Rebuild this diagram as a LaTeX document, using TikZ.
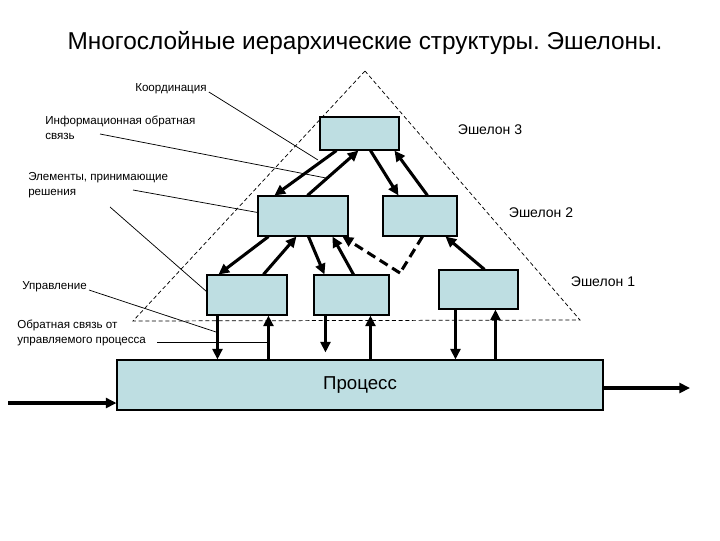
\documentclass[tikz,border=0pt]{standalone}
\usepackage{fontspec}
\setmainfont{Liberation Sans}
\usetikzlibrary{arrows.meta,calc}
\definecolor{boxblue}{RGB}{190,222,226}
\frenchspacing
\tikzset{
  blk/.style={draw=black,line width=0.8pt,fill=boxblue,rectangle,inner sep=0pt},
  arr/.style={line width=2.3pt,-{Triangle[length=8pt,width=7.5pt]}},
  darr/.style={arr,dash pattern=on 7pt off 4pt},
  dln/.style={line width=2.3pt,dash pattern=on 7pt off 4pt},
  lead/.style={line width=0.55pt},
  tri/.style={line width=0.55pt,dash pattern=on 3pt off 2pt},
  lbl/.style={font=\fontsize{8.7}{11}\selectfont,inner sep=0pt,align=left},
  ech/.style={font=\fontsize{10.5}{12}\selectfont,inner sep=0pt}
}
\begin{document}
\begin{tikzpicture}[x=0.75pt,y=-0.75pt]
\useasboundingbox (0,0) rectangle (720,540);
% title
\node[font=\fontsize{18.3}{20}\selectfont,inner sep=0pt] (title) at (365,43) {Многослойные иерархические структуры. Эшелоны.};
% triangle
\coordinate (apex) at (365,71);
\coordinate (tbl) at (133,321);
\coordinate (tbr) at (580,320);
\draw[tri] (apex) -- (tbl) -- (tbr) -- cycle;
% boxes
\node[blk,minimum width=59.25pt,minimum height=24.75pt] (e3) at (359.5,133.5) {};
\node[blk,minimum width=67.5pt,minimum height=30pt] (e2l) at (303,216) {};
\node[blk,minimum width=55.5pt,minimum height=30pt] (e2r) at (420,216) {};
\node[blk,minimum width=60pt,minimum height=30pt] (e1a) at (247,295) {};
\node[blk,minimum width=56.25pt,minimum height=30pt] (e1b) at (351.5,295) {};
\node[blk,minimum width=59.25pt,minimum height=29.25pt] (e1c) at (478.5,289.5) {};
\node[blk,minimum width=364.5pt,minimum height=37.5pt,font=\fontsize{14}{16}\selectfont] (proc) at (360,385) {Процесс};
% echelon 3 <-> 2
\draw[arr] ([shift={(17,0)}]e3.south west) -- ([shift={(17,0)}]e2l.north west);
\draw[arr] ([shift={(50,0)}]e2l.north west) -- ([shift={(39,0)}]e3.south west);
\draw[arr] ([shift={(51,0)}]e3.south west) -- ([shift={(16,0)}]e2r.north west);
\draw[arr] ([shift={(45,0)}]e2r.north west) -- ([shift={(75,0)}]e3.south west);
% echelon 2 <-> 1
\draw[arr] ([shift={(11,0)}]e2l.south west) -- ([shift={(12,0)}]e1a.north west);
\draw[arr] ([shift={(57,0)}]e1a.north west) -- ([shift={(39,0)}]e2l.south west);
\draw[arr] ([shift={(51,0)}]e2l.south west) -- ([shift={(11,0)}]e1b.north west);
\draw[arr] ([shift={(40,0)}]e1b.north west) -- ([shift={(75,0)}]e2l.south west);
\coordinate (dp) at (400,273);
\draw[darr] (dp) -- ([shift={(85,0)}]e2l.south west);
\draw[dln] ([shift={(40,0)}]e2r.south west) -- (dp);
\draw[arr] ([shift={(46,0)}]e1c.north west) -- ([shift={(63,0)}]e2r.south west);
% echelon 1 <-> process
\draw[arr] ([shift={(11,0)}]e1a.south west) -- ([shift={(101,0)}]proc.north west);
\draw[arr] ([shift={(152,0)}]proc.north west) -- ([shift={(62,0)}]e1a.south west);
\draw[arr] ([shift={(12,0)}]e1b.south west) -- ([shift={(209,-7)}]proc.north west);
\draw[arr] ([shift={(254,0)}]proc.north west) -- ([shift={(57,0)}]e1b.south west);
\draw[arr] ([shift={(17,0)}]e1c.south west) -- ([shift={(339,0)}]proc.north west);
\draw[arr] ([shift={(379,0)}]proc.north west) -- ([shift={(57,0)}]e1c.south west);
% input / output
\coordinate (pin) at (8,403);
\coordinate (pout) at (690,388);
\draw[arr] (pin) -- ([shift={(0,18)}]proc.west);
\draw[arr] ([shift={(0,3)}]proc.east) -- (pout);
% echelon labels
\node[ech] (l3) at (490,130) {Эшелон 3};
\node[ech] (l2) at (541,213) {Эшелон 2};
\node[ech] (l1) at (603,282) {Эшелон 1};
% side labels
\node[lbl,anchor=west] (lk) at (135,89) {Координация};
\coordinate (ck) at (318,160);
\draw[lead] ([shift={(2,3)}]lk.east) -- (ck);
\node[lbl,anchor=north west] (li) at (45,116) {Информационная обратная\\связь};
\coordinate (ci) at (326,178);
\coordinate (si) at (100,134);
\draw[lead] (si) -- (ci);
\node[lbl,anchor=north west] (le) at (28,172) {Элементы, принимающие\\решения};
\coordinate (se) at (133,190);
\coordinate (se2) at (110,207);
\draw[lead] (se) -- ([shift={(0,17)}]e2l.north west);
\draw[lead] (se2) -- ([shift={(0,17)}]e1a.north west);
\node[lbl,anchor=west] (lu) at (22,287) {Управление};
\coordinate (cu) at (216,332);
\draw[lead] ([shift={(2,3)}]lu.east) -- (cu);
\node[lbl,anchor=north west] (lo) at (17,320) {Обратная связь от\\управляемого процесса};
\coordinate (so) at (157,342);
\coordinate (co) at (268,342);
\draw[lead] (so) -- (co);
\end{tikzpicture}
\end{document}
